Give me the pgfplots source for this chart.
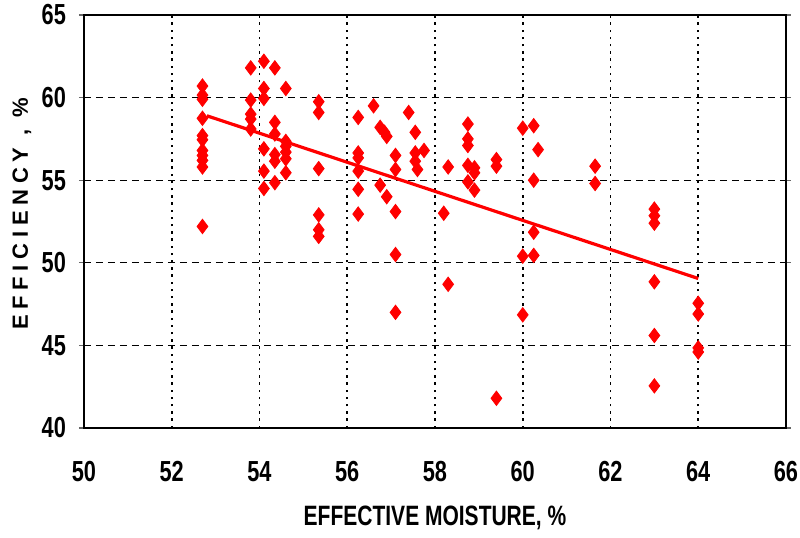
\documentclass[border=0pt]{standalone}
\usepackage{fontspec}
\setmainfont{Liberation Sans}[FakeStretch=0.75]
\newfontfamily\widefont{Liberation Sans}[LetterSpace=26]
\usepackage{pgfplots}
\pgfplotsset{compat=1.18}

\begin{document}
\begin{tikzpicture}
\begin{axis}[
  name=ax,
  scale only axis,
  width=351pt, height=206.5pt,
  xmin=50, xmax=66, ymin=40, ymax=65,
  xtick={50,52,...,66}, ytick={40,45,...,65},
  /pgf/number format/assume math mode=true,
  ticklabel style={font=\bfseries\fontsize{14.5}{14.5}\selectfont},
  xticklabel style={yshift=-10.5pt},
  yticklabel style={xshift=-3pt},
  tick align=outside,
  major tick length=2.5pt,
  xtick style={draw=none},
  ytick style={black!60, line width=0.6pt},
  axis line style={line width=0.9pt},
  grid=major,
  x grid style={black, line width=0.9pt, dash pattern=on 1.2pt off 2.4pt},
  y grid style={black, line width=0.6pt, dash pattern=on 3.5pt off 2.5pt},
  clip=false,
]
% measured points
\addplot[only marks, mark=diamond*, mark size=3.6pt, color=red] coordinates {
(52.7,60.7) (52.7,60.15) (52.7,59.9) (52.7,58.75) (52.7,57.7) (52.7,57.45)
(52.7,56.8) (52.7,56.5) (52.7,56.2) (52.7,55.8) (52.7,52.2)
(53.8,61.8) (53.8,59.85) (53.8,59.0) (53.8,58.7) (53.8,58.1)
(54.1,62.2) (54.1,60.55) (54.1,59.95) (54.1,56.9) (54.1,55.55) (54.1,54.5)
(54.35,61.8) (54.35,58.5) (54.35,57.8) (54.35,56.55) (54.35,56.15) (54.35,54.85)
(54.6,60.55) (54.6,57.35) (54.6,57.05) (54.6,56.7) (54.6,56.3) (54.6,55.45)
(55.35,59.75) (55.35,59.1) (55.35,55.7) (55.35,52.9) (55.35,52.0) (55.35,51.6)
(56.25,58.8) (56.25,56.65) (56.25,56.35) (56.25,55.55) (56.25,54.45) (56.25,52.95)
(56.6,59.5)
(56.75,58.2) (56.75,54.7)
(56.85,57.9)
(56.9,57.65) (56.9,54.0)
(57.1,56.5) (57.1,55.65) (57.1,53.1) (57.1,50.5) (57.1,47.0)
(57.4,59.1)
(57.55,57.9) (57.55,56.65) (57.55,56.15)
(57.6,55.65)
(57.75,56.8)
(58.2,53.0)
(58.3,55.8) (58.3,48.7)
(58.75,58.4) (58.75,57.5) (58.75,57.1) (58.75,55.9) (58.75,54.9)
(58.9,55.75) (58.9,55.45) (58.9,54.4)
(59.4,56.25) (59.4,55.85) (59.4,41.8)
(60.0,58.15) (60.0,50.4) (60.0,46.85)
(60.25,58.3) (60.25,55.0) (60.25,51.85) (60.25,50.45)
(60.35,56.85)
(61.65,55.85) (61.65,54.8)
(63.0,53.25) (63.0,52.85) (63.0,52.4) (63.0,48.85) (63.0,45.6) (63.0,42.55)
(64.0,47.55) (64.0,46.9) (64.0,44.85) (64.0,44.6)
};
% trend line
\addplot[red, line width=1.6pt] coordinates {(52.8,58.9) (64.0,49.05)};
\end{axis}
\node[font=\bfseries\fontsize{14}{14}\selectfont] at (175.5pt,-45pt) {EFFECTIVE MOISTURE, \%};
\node[rotate=90, font=\widefont\bfseries\fontsize{11}{11}\selectfont] at (-31pt,107pt) {EFFICIENCY , \%};
\pgfresetboundingbox
\path[use as bounding box] (-42pt,-54.5pt) rectangle (358pt,214pt);
\end{tikzpicture}
\end{document}
